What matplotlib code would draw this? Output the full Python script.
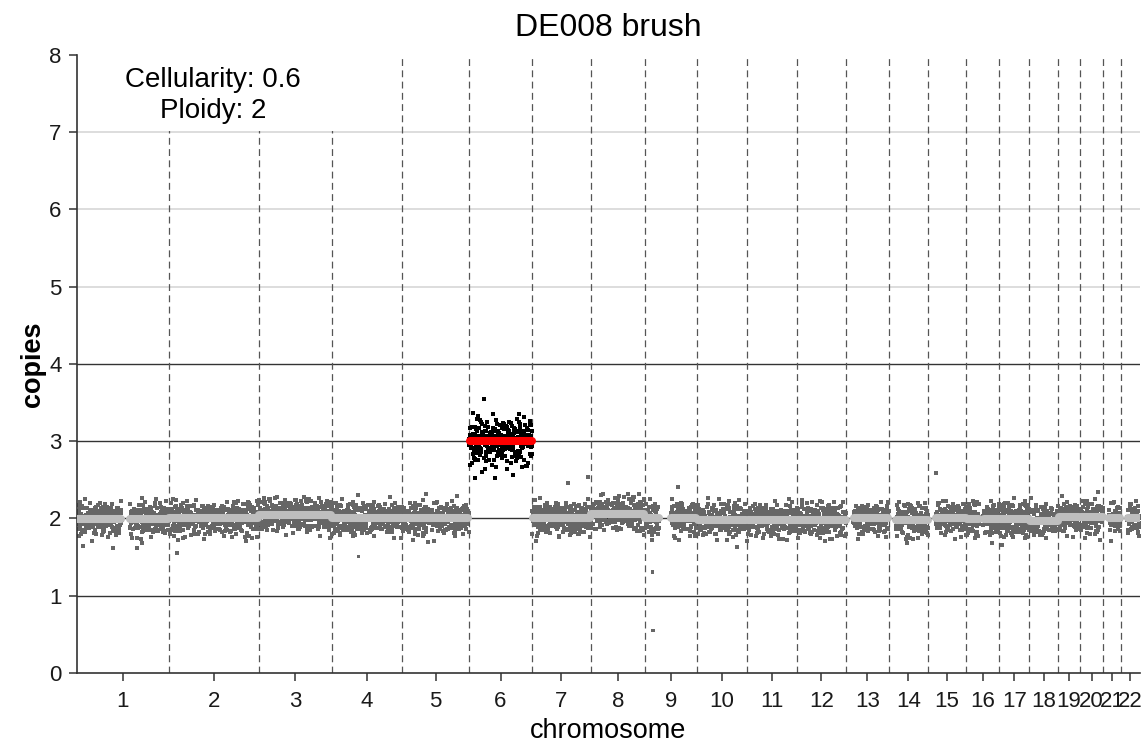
import numpy as np
import matplotlib.pyplot as plt
from matplotlib.patches import Rectangle

plt.rcParams['font.family'] = ['Liberation Sans', 'DejaVu Sans']

# ---------- DATA ----------
chrom_labels = [str(i) for i in range(1, 23)]
# chromosome lengths in Mb (hg19)
chrom_len = [249.25, 243.20, 198.02, 191.15, 180.92, 171.12, 159.14, 146.36,
             141.21, 135.53, 135.01, 133.85, 115.17, 107.35, 102.53, 90.35,
             81.20, 78.08, 59.13, 63.03, 48.13, 51.30]

seg_level = [1.99, 2.00, 2.05, 2.00, 2.00, 3.00, 2.00, 2.06, 2.00, 1.98, 1.98,
             1.98, 2.00, 1.98, 2.00, 1.99, 1.99, 1.97, 2.02, 2.02, 2.00, 2.00]
# scatter of the bins around each segment
bin_sd = [0.12, 0.12, 0.12, 0.12, 0.12, 0.18, 0.12, 0.12, 0.13, 0.12, 0.12,
          0.12, 0.12, 0.12, 0.12, 0.13, 0.13, 0.12, 0.12, 0.12, 0.12, 0.12]
gained = [6]

# regions without bins (chromosome, start Mb, end Mb)
gap_chrom = [1, 9, 16, 13, 14, 15, 21, 22]
gap_start = [121.5, 38.5, 35.3, 0.0, 0.0, 0.0, 0.0, 0.0]
gap_end = [142.5, 70.5, 46.4, 19.2, 19.3, 20.2, 14.5, 16.2]

# standardised bin residuals (hand typed, reused along the genome)
resid_a = [0.42, -1.13, 0.27, 1.58, -0.36, -0.84, 0.91, 0.05, -1.72, 0.63,
           -0.21, 1.12, -0.57, 0.34, -0.98, 2.05, -0.12, 0.76, -1.41, 0.18,
           -0.66, 1.34, -0.03, -0.29, 0.88, -2.21, 0.47, 1.01, -0.74, 0.12,
           -1.05, 0.59, 0.23, -0.45, 1.76, -0.87, 0.08, -0.31, 0.69, -1.26,
           0.95, -0.15, 0.38, -0.52, 1.43, -0.93, 0.17, -0.69, 0.54, -0.08,
           1.21, -1.58, 0.31, -0.24, 0.82, -0.41, -1.89, 0.66, 0.02, -0.77,
           1.05]
resid_b = [-0.61, 0.93, -0.18, 0.44, -1.27, 0.71, 0.09, -0.83, 1.36, -0.39,
           0.26, -1.02, 0.57, -0.11, 1.68, -0.72, 0.35, -0.49, 0.14, -1.55,
           0.98, -0.27, 0.61, -0.06, -0.91, 1.19, -0.33, 0.48, -1.84, 0.22,
           0.79, -0.58, 0.04, 1.02, -0.44, -0.19, 0.67, -1.11, 0.31, 1.47,
           -0.65, 0.13, -0.37, 0.86, -1.33, 0.52, -0.02]

# isolated outlying bins (chromosome, Mb, copies)
out_chrom = [1, 1, 1, 2, 4, 7, 7, 9, 9, 9, 15, 6, 6]
out_pos = [97.0, 163.0, 176.0, 21.7, 73.0, 151.0, 97.0, 21.0, 21.5, 89.5,
           20.6, 40.0, 120.0]
out_val = [1.62, 1.62, 1.68, 1.55, 1.51, 2.54, 2.46, 1.31, 0.55, 2.41, 2.59,
           3.55, 2.56]

cellularity = 0.6
ploidy = 2
bin_size = 0.6

# ---------- LAYOUT ----------
offsets = np.concatenate([[0], np.cumsum(chrom_len)])
total = offsets[-1]
centers = offsets[:-1] + np.array(chrom_len) / 2

fig = plt.figure(figsize=(11.45, 7.49), dpi=100)
ax = fig.add_axes([0.0672, 0.1015, 0.9284, 0.8251])

# horizontal guides
for y in [5, 6, 7]:
    ax.axhline(y, color='#d3d3d3', lw=1.1, zorder=0.5)
for y in [1, 2, 3, 4]:
    ax.axhline(y, color='#333333', lw=1.0, zorder=0.6)

# chromosome boundaries
for b in offsets[1:-1]:
    ax.axvline(b, color='#555555', lw=0.9, ls=(0, (5.5, 3.5)), zorder=0.7)

# ---------- BINS AND SEGMENTS ----------
k = 0
for c in range(22):
    num = c + 1
    pos = np.arange(bin_size / 2, chrom_len[c], bin_size)
    keep = np.ones(len(pos), bool)
    pieces = [(0.0, chrom_len[c])]
    for gc, gs, ge in zip(gap_chrom, gap_start, gap_end):
        if gc == num:
            keep &= ~((pos > gs) & (pos < ge))
            new = []
            for s, e in pieces:
                if ge <= s or gs >= e:
                    new.append((s, e))
                else:
                    if gs > s:
                        new.append((s, gs))
                    if ge < e:
                        new.append((ge, e))
            pieces = new
    pos = pos[keep]
    z = np.array([(resid_a[(k + i) % len(resid_a)] +
                   resid_b[(3 * (k + i)) % len(resid_b)]) / np.sqrt(2)
                  for i in range(len(pos))])
    k += len(pos)
    vals = seg_level[c] + bin_sd[c] * z
    col = 'black' if num in gained else '#666666'
    ax.scatter(offsets[c] + pos, vals, s=6.5, marker='s', color=col,
               linewidths=0, zorder=2)
    seg_col = 'red' if num in gained else '#bebebe'
    for s, e in pieces:
        ax.plot([offsets[c] + s + 1.5, offsets[c] + e - 1.5],
                [seg_level[c], seg_level[c]], color=seg_col, lw=5.8,
                solid_capstyle='round', zorder=3)

ox = [offsets[c - 1] + p for c, p in zip(out_chrom, out_pos)]
oc = ['black' if c in gained else '#666666' for c in out_chrom]
ax.scatter(ox, out_val, s=6.5, marker='s', c=oc, linewidths=0, zorder=2)

# annotation
ax.add_patch(Rectangle((0, 7.015), 740, 1.2, facecolor='white',
                       edgecolor='none', zorder=1, clip_on=True))
ax.text(368, 7.68, f'Cellularity: {cellularity}', ha='center', va='center',
        fontsize=20, zorder=4)
ax.text(368, 7.27, f'Ploidy: {ploidy}', ha='center', va='center',
        fontsize=20, zorder=4)

# ---------- AXES ----------
ax.set_xlim(0, total)
ax.set_ylim(0, 8)
ax.set_xticks(centers)
ax.set_xticklabels(chrom_labels)
ax.set_yticks(range(9))
ax.tick_params(axis='both', length=6, width=1.1, color='#333333',
               labelsize=16, labelcolor='#1a1a1a')
ax.tick_params(axis='x', pad=7)
ax.tick_params(axis='y', pad=5)
for side in ['top', 'right']:
    ax.spines[side].set_visible(False)
for side in ['left', 'bottom']:
    ax.spines[side].set_color('#333333')
    ax.spines[side].set_linewidth(1.2)

ax.set_xlabel('chromosome', fontsize=19.5, labelpad=4)
ax.set_ylabel('copies', fontsize=19.5, fontweight='bold', labelpad=2)
ax.set_title('DE008 brush', fontsize=23, pad=14)

fig.savefig('out.png', dpi=100)
